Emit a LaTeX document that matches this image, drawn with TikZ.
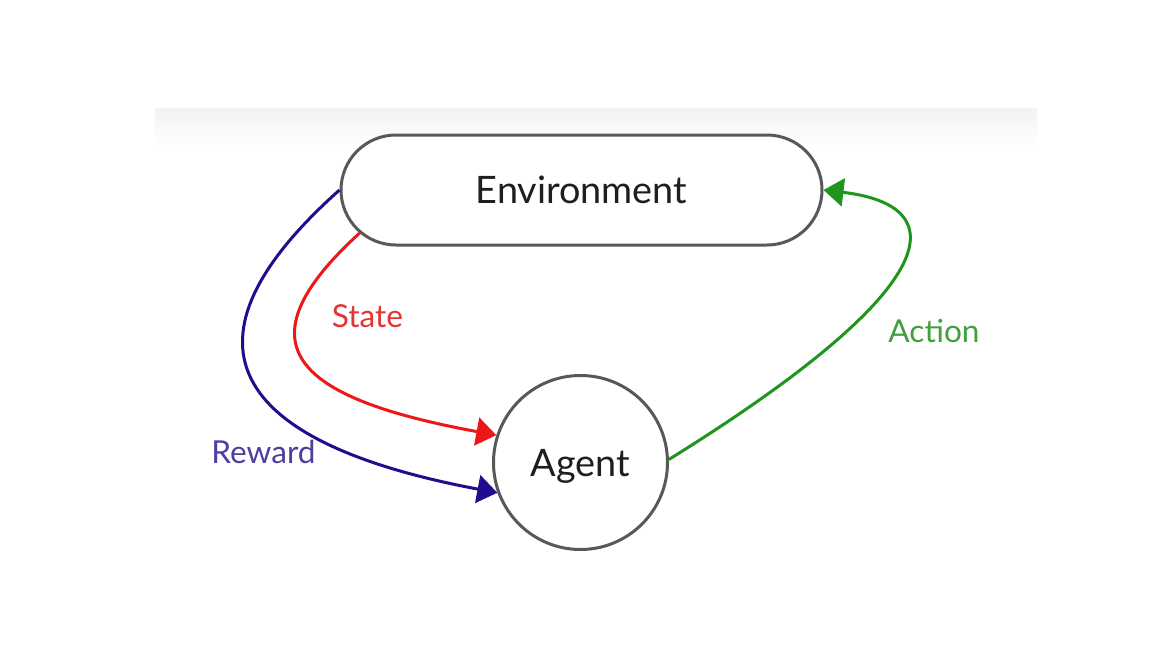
\documentclass[tikz,border=0pt]{standalone}
\usepackage{fontspec}
\setmainfont{Lato}
\usetikzlibrary{arrows.meta,shapes.misc}
\definecolor{boxgray}{RGB}{88,88,88}
\definecolor{txtblack}{RGB}{30,30,30}
\definecolor{rewline}{RGB}{32,12,140}
\definecolor{rewtxt}{RGB}{78,62,160}
\definecolor{staline}{RGB}{238,22,22}
\definecolor{statxt}{RGB}{228,52,52}
\definecolor{actline}{RGB}{30,150,30}
\definecolor{acttxt}{RGB}{62,160,62}
\tikzset{
  mainbox/.style={draw=boxgray, line width=1.5pt, fill=white, text=txtblack, inner sep=0pt,
    font=\fontsize{18.9}{22}\selectfont, text depth=0pt},
  lbl/.style={inner sep=0pt, font=\fontsize{15.8}{18}\selectfont, text depth=0pt},
  conn/.style={line width=1.5pt, -{Triangle[length=10pt,width=14pt]}},
}
\begin{document}
\begin{tikzpicture}[x=0.5pt,y=-0.5pt]
\useasboundingbox (0,0) rectangle (1152,648);
\fill[white] (0,0) rectangle (1152,648);
\shade[top color=black!5, bottom color=white, draw=none] (155,108) rectangle (1037,146);
\node[mainbox, rounded rectangle, minimum width=240.5pt, minimum height=55pt] (env) at (581.5,190) {Environment};
\node[mainbox, circle, minimum size=87pt] (agent) at (580.5,462.5) {Agent};
\draw[conn, draw=rewline] (env.west) .. controls (160,350) and (243,445) .. (agent.200);
\draw[conn, draw=staline] (env.191) .. controls (237,345) and (294,398) .. (agent.162);
\draw[conn, draw=actline] (agent.2) .. controls (942,290) and (958,206) .. (env.east);
\node[lbl, text=statxt] (lstate) at (367.5,316.5) {State};
\node[lbl, text=rewtxt] (lreward) at (263.5,451.5) {Reward};
\node[lbl, text=acttxt] (laction) at (934,331) {Action};
\end{tikzpicture}
\end{document}
